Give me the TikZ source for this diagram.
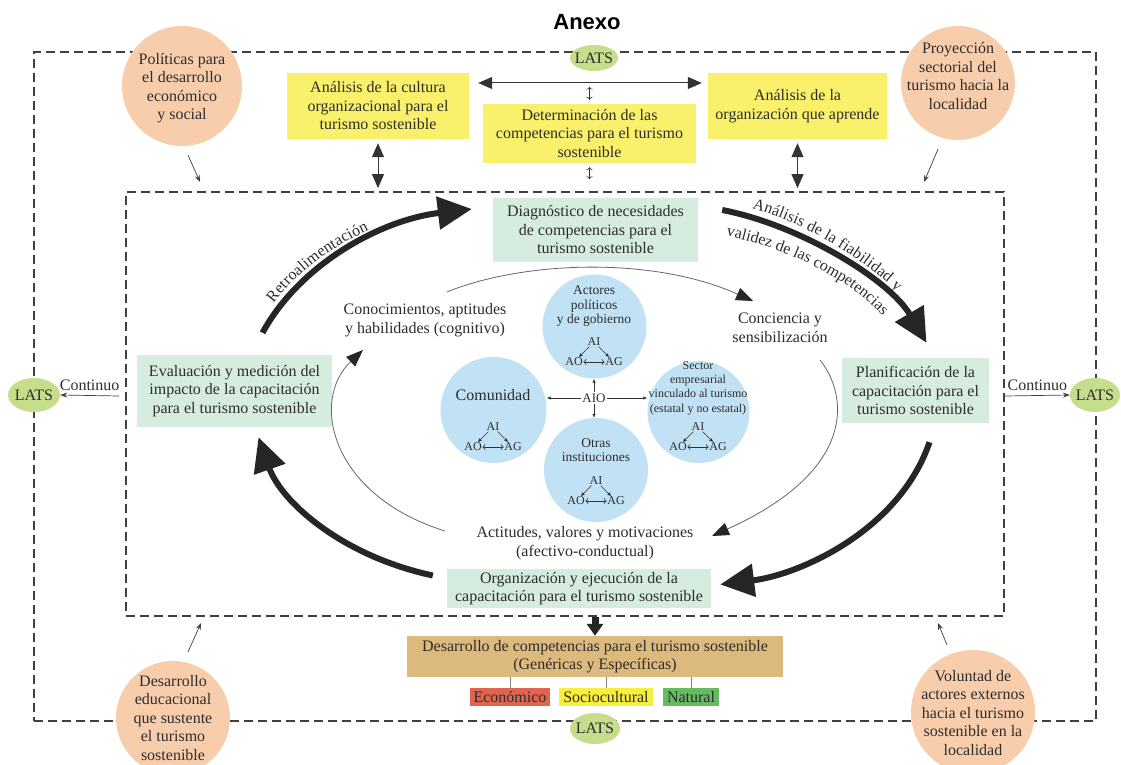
\documentclass[tikz,border=0pt]{standalone}
\usepackage{fontspec}
\setmainfont{Liberation Serif}
\newfontfamily\headfont{Liberation Sans}
\usetikzlibrary{arrows.meta,calc,shapes.geometric,decorations.text}

\definecolor{ink}{RGB}{45,45,45}
\definecolor{peach}{RGB}{248,205,172}
\definecolor{boxyellow}{RGB}{249,240,108}
\definecolor{mint}{RGB}{214,236,222}
\definecolor{skyblue}{RGB}{192,226,244}
\definecolor{latsgreen}{RGB}{198,221,140}
\definecolor{boxtan}{RGB}{220,185,124}
\definecolor{econred}{RGB}{226,100,80}
\definecolor{socioyellow}{RGB}{247,238,62}
\definecolor{natgreen}{RGB}{102,186,98}

\newcommand{\normtext}{\fontsize{16}{18.5}\selectfont}

\begin{document}
\begin{tikzpicture}[x=1pt, y=-1pt,
    txt/.style={font=\normtext, align=center, text=ink, inner sep=1pt},
    ybox/.style={txt, fill=boxyellow},
    gbox/.style={txt, fill=mint},
    ball/.style={circle, inner sep=0pt},
    lats/.style={ellipse, fill=latsgreen, text=ink, font=\normtext, inner xsep=-6pt, inner ysep=0pt},
    frame/.style={draw=black!75, line width=1.8pt, dash pattern=on 9pt off 5pt, inner sep=0pt},
    cyclearrow/.style={draw=black!85, line width=6pt, -{Triangle[length=34pt,width=32pt]}},
    ringarrow/.style={draw=black!60, line width=0.8pt, -{Triangle[length=17pt,width=13pt,color=black!85]}},
    pinarrow/.style={draw=black!75, line width=0.7pt, -{Stealth[length=7pt,width=5pt]}},
    tinyarrow/.style={draw=black!80, line width=0.6pt, -{Latex[length=4pt,width=3.5pt]}},
    twoway/.style={draw=black!80, line width=1pt, {Triangle[length=14pt,width=12pt]}-{Triangle[length=14pt,width=12pt]}},
    legend/.style={txt, inner sep=0pt, minimum height=18pt}
  ]

  \fill[white] (0,0) rectangle (1121,765);
  \useasboundingbox (0,0) rectangle (1121,765);

  % the two dashed frames
  \node[frame, minimum width=1062pt, minimum height=669pt] (outer) at (565,386.5) {};
  \node[frame, minimum width=878pt, minimum height=424pt] (inner) at (565,404) {};

  \node[font={\headfont\bfseries\fontsize{22}{24}\selectfont}, text=black] (title) at (587,22) {Anexo};

  % LATS on the outer frame
  \node[lats, minimum width=48pt, minimum height=26pt] (latsT) at (594,58) {LATS};
  \node[lats, minimum width=52pt, minimum height=34pt] (latsL) at (34,395) {LATS};
  \node[lats, minimum width=50pt, minimum height=34pt] (latsR) at (1095,395) {LATS};
  \node[lats, minimum width=50pt, minimum height=31pt] (latsB) at (595,728.5) {LATS};

  % outside factors
  \node[ball, fill=peach, minimum size=120pt] (polit) at (182,86) {};
  \node[txt] (polittxt) at (182,88) {Políticas para\\el desarrollo\\económico\\y social};
  \node[ball, fill=peach, minimum size=114pt] (proy) at (958,83) {};
  \node[txt] (proytxt) at (958,76) {Proyección\\sectorial del\\turismo hacia la\\localidad};
  \node[ball, fill=peach, minimum size=114pt] (desed) at (173,718) {};
  \node[txt] (desedtxt) at (173,718) {Desarrollo\\educacional\\que sustente\\el turismo\\sostenible};
  \node[ball, fill=peach, minimum size=124pt] (volun) at (973,712) {};
  \node[txt] (voluntxt) at (973,713) {Voluntad de\\actores externos\\hacia el turismo\\sostenible en la\\localidad};

  \draw[pinarrow] ($(polit.south)+(6,9)$) -- ($(inner.north west)+(75,-9)$);
  \draw[pinarrow] ($(proy.south)+(-20,9)$) -- ($(inner.north east)+(-81,-9)$);
  \draw[pinarrow] ($(desed.north)+(15,-9)$) -- ($(inner.south west)+(76,6)$);
  \draw[pinarrow] ($(volun.north)+(-26,-5)$) -- ($(inner.south east)+(-67,6)$);

  % top boxes
  \node[ybox, minimum width=182pt, minimum height=66pt] (cult) at (378,106) {Análisis de la cultura\\organizacional para el\\turismo sostenible};
  \node[ybox, minimum width=213pt, minimum height=59pt] (det) at (589.5,133.5) {Determinación de las\\competencias para el turismo\\sostenible};
  \node[ybox, minimum width=179pt, minimum height=66pt] (orgap) at (797.5,106) {Análisis de la\\organización que aprende};

  \draw[twoway, shorten <=9pt, shorten >=6pt] ($(cult.east)+(0,-23)$) -- ($(orgap.west)+(0,-23)$);
  \draw[twoway, shorten <=4pt, shorten >=3pt] (cult.south) -- (cult.south |- inner.north);
  \draw[twoway, shorten <=4pt, shorten >=3pt] (orgap.south) -- (orgap.south |- inner.north);
  \draw[tinyarrow, <->, shorten <=4pt] (det.north) -- ($(det.north)+(0,-17)$);
  \draw[tinyarrow, <->, shorten <=4pt, shorten >=12pt] (det.south) -- (det.south |- inner.north);

  % the training cycle
  \node[gbox, minimum width=205pt, minimum height=64pt] (diag) at (595.5,230) {Diagnóstico de necesidades\\de competencias para el\\turismo sostenible};
  \node[gbox, minimum width=195pt, minimum height=72pt] (eval) at (234.5,391) {Evaluación y medición del\\impacto de la capacitación\\para el turismo sostenible};
  \node[gbox, minimum width=147pt, minimum height=65pt] (plan) at (915.5,390.5) {Planificación de la\\capacitación para el\\turismo sostenible};
  \node[gbox, minimum width=264pt, minimum height=39pt] (orgej) at (579,588.5) {Organización y ejecución de la\\capacitación para el turismo sostenible};

  \draw[cyclearrow, postaction={decorate, decoration={text along path, raise=7pt,
      text align={left indent=30pt}, text color=ink, text={|\normtext|Retroalimentación}}}]
    ($(eval.north)+(28,-22)$) .. controls +(37,-68) and +(-92,11) .. ($(diag.west)+(-21,-21)$);
  \draw[cyclearrow,
    postaction={decorate, decoration={text along path, raise=9pt,
      text align={left indent=28pt}, text color=ink, text={|\normtext|Análisis de la fiabilidad y}}}]
    ($(diag.east)+(24,-20)$) .. controls +(78,15) and +(-37,-63) .. ($(plan.north)+(11,-15)$);
  \path[decorate, decoration={text along path, text color=ink, text={|\normtext|validez de las competencias}}]
    ($(diag.east)+(28,6)$) .. controls +(69,14) and +(-34,-39) .. ($(plan.north)+(-27,-36)$);
  \draw[cyclearrow] ($(plan.south)+(14,19)$) .. controls +(-30,88) and +(80,-10) .. ($(orgej.east)+(9,-4)$);
  \draw[cyclearrow] ($(orgej.west)+(-14,-13)$) .. controls +(-93,-20) and +(22,63) .. ($(eval.south)+(24,10)$);

  \draw[pinarrow] ($(inner.west)+(-6,-8)$) -- (latsL.east) node[txt, midway, above=3pt] (contL) {Continuo};
  \draw[pinarrow] ($(inner.east)+(0,-8)$) -- (latsR.west) node[txt, midway, above=3pt] (contR) {Continuo};

  % inner ring
  \node[txt] (conoc) at (425,320) {Conocimientos, aptitudes\\y habilidades (cognitivo)};
  \node[txt] (concien) at (780,328) {Conciencia y\\sensibilización};
  \node[txt] (actit) at (585,543) {Actitudes, valores y motivaciones\\(afectivo-conductual)};

  \draw[ringarrow] ($(conoc)+(22,-28)$) .. controls +(73,-30) and +(-103,-46) .. ($(concien)+(-27,-27)$);
  \draw[ringarrow] ($(concien)+(40,32)$) .. controls +(28,35) and +(146,-66) .. ($(actit)+(127,-7)$);
  \draw[ringarrow] ($(actit)+(-140,-12)$) .. controls +(-115,-36) and +(-53,50) .. ($(conoc)+(-62,30)$);

  % actors
  \node[ball, fill=skyblue, minimum size=104pt] (actores) at (594.5,326.5) {};
  \node[ball, fill=skyblue, minimum size=106pt] (comun) at (493.5,410) {};
  \node[ball, fill=skyblue, minimum size=102pt] (sector) at (698.5,412) {};
  \node[ball, fill=skyblue, minimum size=104pt] (otras) at (596,470) {};

  \node[txt, font=\fontsize{13.5}{14.5}\selectfont] (actorestxt) at (594,306) {Actores\\políticos\\y de gobierno};
  \node[txt] (comuntxt) at (493,395) {Comunidad};
  \node[txt, font=\fontsize{12}{14.3}\selectfont] (sectortxt) at (698,388) {Sector\\empresarial\\vinculado al turismo\\(estatal y no estatal)};
  \node[txt, font=\fontsize{13.5}{14.5}\selectfont] (otrastxt) at (596,450) {Otras\\instituciones};

  \node[txt, font=\fontsize{13}{14}\selectfont] (aio) at (594,398) {AIO};
  \draw[tinyarrow] (aio) -- (aio -| comun.east);
  \draw[tinyarrow] (aio) -- (aio -| sector.west);
  \draw[tinyarrow] (aio) -- (aio |- actores.south);
  \draw[tinyarrow] (aio) -- (aio |- otras.north);

  \foreach \n/\x/\y in {act/594/342, com/493/427, sec/698/427, otr/596/481} {
    \node[txt, font=\fontsize{12}{13}\selectfont, inner sep=0.5pt] (ai\n) at (\x,\y) {AI};
    \node[txt, font=\fontsize{12}{13}\selectfont, inner sep=0.5pt] (ao\n) at (\x-20,\y+20) {AO};
    \node[txt, font=\fontsize{12}{13}\selectfont, inner sep=0.5pt] (ag\n) at (\x+20,\y+20) {AG};
    \draw[tinyarrow] (ai\n) -- (ao\n);
    \draw[tinyarrow] (ai\n) -- (ag\n);
    \draw[tinyarrow, <->] (ao\n) -- (ag\n);
  }

  % result
  \node[txt, fill=boxtan, minimum width=376pt, minimum height=41pt] (desarr) at (595,656.5) {Desarrollo de competencias para el turismo sostenible\\(Genéricas y Específicas)};
  \draw[draw=black!85, line width=7pt, -{Triangle[length=12pt,width=16pt]}] (desarr.north |- inner.south) -- (desarr.north);

  \node[legend, fill=econred, minimum width=80pt] (econ) at (510,697) {Económico};
  \node[legend, fill=socioyellow, minimum width=94pt] (socio) at (606,697) {Sociocultural};
  \node[legend, fill=natgreen, minimum width=56pt] (natural) at (691,697) {Natural};
  \foreach \b in {econ,socio,natural}
    \draw[black!50, line width=0.8pt] (\b.north) -- (\b.north |- desarr.south);

\end{tikzpicture}
\end{document}
